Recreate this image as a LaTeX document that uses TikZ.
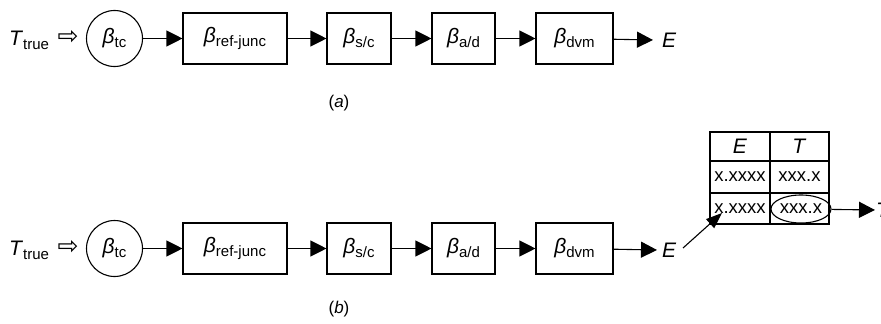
\documentclass[tikz,border=0pt]{standalone}
\usepackage{fontspec}
\setmainfont{Liberation Sans}
\newfontfamily\symfont{DejaVu Sans}
\usetikzlibrary{arrows.meta,shapes.geometric}
\newcommand\bsub[1]{\textit{β}\raisebox{-0.35ex}{\fontsize{15}{15}\selectfont #1}}
\tikzset{
  blk/.style={draw, line width=1.1pt, minimum height=51pt, inner sep=0pt, font=\fontsize{21}{21}\selectfont},
  circ/.style={draw, circle, line width=1.1pt, minimum size=56pt, inner sep=0pt, font=\fontsize{21}{21}\selectfont},
  lbl/.style={inner sep=0pt, font=\fontsize{21}{21}\selectfont},
  conn/.style={line width=1.1pt, -{Triangle[length=16pt,width=16pt]}},
  cell/.style={draw, line width=1.1pt, inner sep=0pt, font=\fontsize{18.5}{18.5}\selectfont},
}
\begin{document}
\begin{tikzpicture}[x=1pt,y=-1pt]
\useasboundingbox (0,0) rectangle (881,324);
% row (a)
\node[lbl] (ta) at (29,40) {\textit{T}\raisebox{-0.35ex}{\fontsize{15}{15}\selectfont true}};
\node[lbl] (ia) at (68,37) {\symfont\fontsize{25}{25}\selectfont ⇨};
\node[circ] (ca) at (114.5,38.5) {\bsub{tc}};
\node[blk, minimum width=104pt] (ra) at (235,38.5) {\bsub{ref-junc}};
\node[blk, minimum width=64pt] (sa) at (359,38.5) {\bsub{s/c}};
\node[blk, minimum width=63pt] (aa) at (463.5,38.5) {\bsub{a/d}};
\node[blk, minimum width=77pt] (da) at (574.5,38.5) {\bsub{dvm}};
\node[lbl, anchor=west] (ea) at (662,40) {\textit{E}};
\draw[conn] (ca) -- (ra);
\draw[conn] (ra) -- (sa);
\draw[conn] (sa) -- (aa);
\draw[conn] (aa) -- (da);
\draw[conn] (da) -- ([xshift=-9pt]ea.west);
\node[lbl, font=\fontsize{17}{17}\selectfont] (la) at (339,103) {(\textit{a})};
% row (b)
\node[lbl] (tb) at (29,250) {\textit{T}\raisebox{-0.35ex}{\fontsize{15}{15}\selectfont true}};
\node[lbl] (ib) at (68,247) {\symfont\fontsize{25}{25}\selectfont ⇨};
\node[circ] (cb) at (114.5,248.5) {\bsub{tc}};
\node[blk, minimum width=104pt] (rb) at (235,248.5) {\bsub{ref-junc}};
\node[blk, minimum width=64pt] (sb) at (359,248.5) {\bsub{s/c}};
\node[blk, minimum width=63pt] (ab) at (463.5,248.5) {\bsub{a/d}};
\node[blk, minimum width=77pt] (db) at (574.5,248.5) {\bsub{dvm}};
\node[lbl, anchor=west] (eb) at (662,250) {\textit{E}};
\draw[conn] (cb) -- (rb);
\draw[conn] (rb) -- (sb);
\draw[conn] (sb) -- (ab);
\draw[conn] (ab) -- (db);
\draw[conn] (db) -- ([xshift=-5pt]eb.west);
\node[lbl, font=\fontsize{17}{17}\selectfont] (lb) at (339,309) {(\textit{b})};
% table
\node[cell, minimum width=60pt, minimum height=29pt] (h1) at (740,146.5) {\fontsize{21}{21}\selectfont\textit{E}};
\node[cell, minimum width=59pt, minimum height=29pt] (h2) at (799.5,146.5) {\fontsize{21}{21}\selectfont\textit{T}};
\node[cell, minimum width=60pt, minimum height=32pt] (a1) at (740,177) {x.xxxx};
\node[cell, minimum width=59pt, minimum height=32pt] (a2) at (799.5,177) {xxx.x};
\node[cell, minimum width=60pt, minimum height=31pt] (b1) at (740,208.5) {x.xxxx};
\node[cell, minimum width=59pt, minimum height=31pt] (b2) at (799.5,208.5) {};
\node[draw, ellipse, line width=1.1pt, minimum width=60pt, minimum height=28pt, inner sep=0pt, font=\fontsize{18.5}{18.5}\selectfont] (el) at (801,209) {xxx.x};
\coordinate (src) at (683,248);
\coordinate (dst) at (722,213);
\draw[line width=1.1pt, -{Triangle[length=16pt,width=12pt]}] (src) -- (dst);
\node[lbl, anchor=west] (tt) at (876,210) {\textit{T}};
\draw[conn] (el) -- ([xshift=-1pt]tt.west);
\end{tikzpicture}
\end{document}
